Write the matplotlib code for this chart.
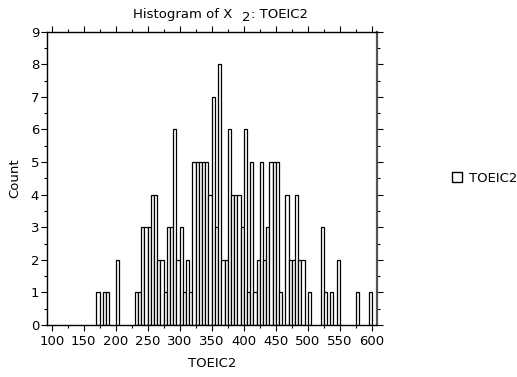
import matplotlib
matplotlib.use('Agg')
import matplotlib.pyplot as plt
from matplotlib.patches import Rectangle
from matplotlib.ticker import MultipleLocator

# left edges of the 5-point bins and their counts
bin_left = [170, 180, 185, 200,
            230, 235, 240, 245, 250, 255, 260, 265, 270, 275,
            280, 285, 290, 295, 300, 305, 310, 315,
            320, 325, 330, 335, 340, 345, 350, 355, 360, 365, 370,
            375, 380, 385, 390, 395, 400, 405, 410, 415, 420,
            425, 430, 435, 440, 445, 450, 455, 465, 470, 475,
            480, 485, 490, 500, 520, 525, 535, 545, 575, 595]
counts = [1, 1, 1, 2,
          1, 1, 3, 3, 3, 4, 4, 2, 2, 1,
          3, 3, 6, 2, 3, 1, 2, 1,
          5, 5, 5, 5, 5, 4, 7, 3, 8, 2, 2,
          6, 4, 4, 4, 3, 6, 1, 5, 1, 2,
          5, 2, 3, 5, 5, 5, 1, 4, 2, 2,
          4, 2, 2, 1, 3, 1, 1, 2, 1, 1]
bin_width = 5
x_ticks = list(range(100, 601, 50))
y_ticks = list(range(0, 10))

plt.rcParams['font.family'] = ['DejaVu Sans']
W, H = 517, 377
fig = plt.figure(figsize=(W / 100, H / 100), dpi=100)
ax = fig.add_axes([46.7 / W, 1 - 325 / H, 330 / W, 293.3 / H])

ax.bar(bin_left, counts, width=bin_width, align='edge',
       facecolor='white', edgecolor='black', linewidth=0.9)

ax.set_xlim(92.2, 607.8)
ax.set_ylim(0, 9)
ax.set_xticks(x_ticks)
ax.set_yticks(y_ticks)
ax.xaxis.set_minor_locator(MultipleLocator(25))
ax.yaxis.set_minor_locator(MultipleLocator(0.5))
ax.tick_params(which='both', direction='out', top=True, right=True,
               labelsize=9.5, width=0.8, color='black')
ax.tick_params(axis='x', pad=3)
ax.tick_params(axis='y', pad=1.5)
ax.tick_params(which='major', length=4)
ax.tick_params(which='minor', length=2)
for s in ['left', 'top', 'bottom']:
    ax.spines[s].set_linewidth(1.0)
ax.spines['right'].set_linewidth(1.6)
ax.spines['right'].set_color('#555555')

ax.set_xlabel('TOEIC2', fontsize=9.5, labelpad=7)
ax.set_ylabel('Count', fontsize=9.5, labelpad=7)

# title with the lowered "2"
fig.text(232 / W, 1 - 18 / H, 'Histogram of X', ha='right', va='baseline', fontsize=9.5)
fig.text(246.5 / W, 1 - 21 / H, '2', ha='center', va='baseline', fontsize=9.5)
fig.text(251 / W, 1 - 18 / H, ': TOEIC2', ha='left', va='baseline', fontsize=9.5)

handle = Rectangle((0, 0), 1, 1, facecolor='white', edgecolor='black', linewidth=1.0)
fig.legend([handle], ['TOEIC2'], loc='center left',
           bbox_to_anchor=(440 / W, 1 - 178 / H), frameon=False,
           fontsize=9.5, handlelength=0.8, handleheight=0.8, handletextpad=0.5)

fig.savefig('out.png', dpi=100)
